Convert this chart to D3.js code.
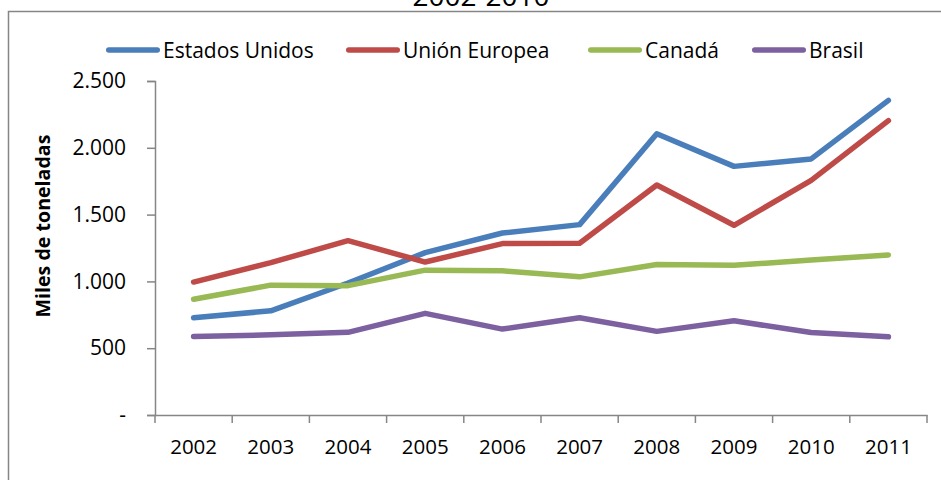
<!DOCTYPE html>
<html>
<head>
<meta charset="utf-8">
<script src="https://cdn.jsdelivr.net/npm/d3@7"></script>
<style>
  html, body { margin: 0; padding: 0; background: #fff; overflow: hidden; }
  svg { display: block; font-family: "Open Sans", "Noto Sans", sans-serif; }
</style>
</head>
<body>
<svg id="chart" width="941" height="480"></svg>
<script>
// Import volumes (miles de toneladas) per year
const years = ["2002", "2003", "2004", "2005", "2006", "2007", "2008", "2009", "2010", "2011"];
const estadosUnidos = [728, 780, 988, 1215, 1362, 1425, 2105, 1861, 1917, 2355];
const unionEuropea  = [995, 1140, 1305, 1145, 1283, 1286, 1722, 1420, 1756, 2203];
const canada        = [866, 972, 968, 1084, 1079, 1034, 1127, 1120, 1160, 1198];
const brasil        = [588, 600, 619, 761, 643, 728, 626, 705, 617, 585];

const seriesNames  = ["Estados Unidos", "Unión Europea", "Canadá", "Brasil"];
const seriesValues = [estadosUnidos, unionEuropea, canada, brasil];
const seriesColors = ["#4A7EBB", "#BE4B48", "#98B954", "#7D60A0"];

const yTicks      = [0, 500, 1000, 1500, 2000, 2500];
const yTickLabels = ["-", "500", "1.000", "1.500", "2.000", "2.500"];

const titleText = "2002-2010";
const yTitle = "Miles de toneladas";

const svg = d3.select("#chart");
const axisColor = "#868686";
const fontSize = 21;

// outer chart frame (extends past the right and bottom edges)
svg.append("rect")
  .attr("x", 8.5).attr("y", 11.5)
  .attr("width", 960).attr("height", 500)
  .attr("fill", "none").attr("stroke", axisColor).attr("stroke-width", 1.5);

// title, partly above the frame
svg.append("text")
  .attr("x", 481).attr("y", 6)
  .attr("text-anchor", "middle")
  .attr("font-size", 28)
  .attr("fill", "#000")
  .text(titleText);

const plot = { left: 155, right: 927, top: 81, bottom: 415 };

const x = d3.scaleBand().domain(years).range([plot.left, plot.right]).padding(0);
const y = d3.scaleLinear().domain([0, 2500]).range([plot.bottom, plot.top]);

// y axis
const yAxis = d3.axisLeft(y)
  .tickValues(yTicks)
  .tickSize(8)
  .tickPadding(21)
  .tickFormat((d, i) => yTickLabels[i]);
const gy = svg.append("g").attr("transform", `translate(${plot.left},0)`).call(yAxis);
gy.select(".domain").attr("stroke", axisColor).attr("stroke-width", 1.5);
gy.selectAll(".tick line").attr("stroke", axisColor).attr("stroke-width", 1.5);
gy.selectAll(".tick text")
  .attr("font-size", fontSize).attr("fill", "#000")
  .attr("font-family", "'Open Sans', sans-serif");

// x axis with ticks between categories
const xAxis = d3.axisBottom(x).tickSize(0).tickPadding(24);
const gx = svg.append("g").attr("transform", `translate(0,${plot.bottom})`).call(xAxis);
gx.select(".domain").attr("stroke", axisColor).attr("stroke-width", 1.5);
gx.selectAll(".tick text")
  .attr("font-size", 20.5).attr("fill", "#000")
  .attr("font-family", "'Open Sans', sans-serif");
const boundaries = years.map(yr => x(yr)).concat([x(years[years.length - 1]) + x.bandwidth()]);
gx.selectAll(".bound")
  .data(boundaries)
  .enter().append("line")
  .attr("class", "bound")
  .attr("x1", d => d).attr("x2", d => d)
  .attr("y1", 0).attr("y2", 8)
  .attr("stroke", axisColor).attr("stroke-width", 1.5);

// y axis title
svg.append("text")
  .attr("transform", `translate(50,226) rotate(-90)`)
  .attr("text-anchor", "middle")
  .attr("font-size", 19.6)
  .attr("font-weight", "bold")
  .attr("fill", "#000")
  .text(yTitle);

// series lines
const line = d3.line()
  .x((d, i) => x(years[i]) + x.bandwidth() / 2)
  .y(d => y(d));

svg.append("g").selectAll("path")
  .data(seriesValues)
  .enter().append("path")
  .attr("d", d => line(d))
  .attr("fill", "none")
  .attr("stroke", (d, i) => seriesColors[i])
  .attr("stroke-width", 5.5)
  .attr("stroke-linecap", "round")
  .attr("stroke-linejoin", "round");

// legend
const legendX = [106, 346, 588, 752];
const legend = svg.append("g");
seriesNames.forEach((name, i) => {
  const g = legend.append("g").attr("transform", `translate(${legendX[i]},50)`);
  g.append("line")
    .attr("x1", 2.75).attr("x2", 51.25).attr("y1", 0).attr("y2", 0)
    .attr("stroke", seriesColors[i]).attr("stroke-width", 5.5)
    .attr("stroke-linecap", "round");
  g.append("text")
    .attr("x", 57).attr("y", 7.5)
    .attr("font-size", fontSize).attr("fill", "#000")
    .text(name);
});
</script>
</body>
</html>
